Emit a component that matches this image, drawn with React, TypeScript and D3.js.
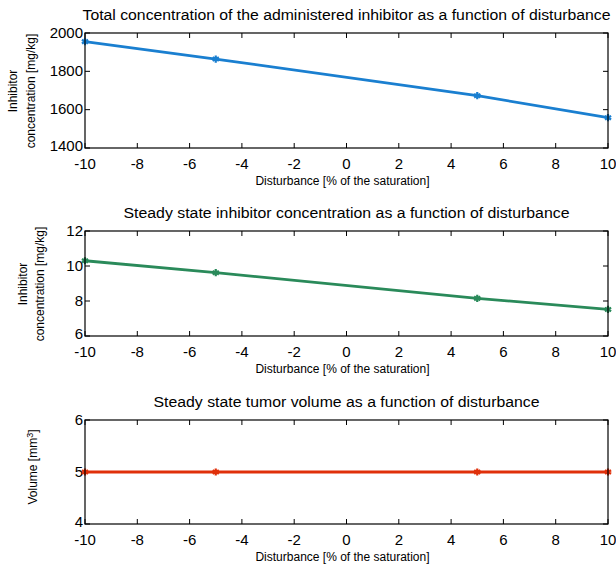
import React from "react";
import * as d3 from "d3";

// Disturbance levels [% of the saturation]
const disturbance = [-10, -5, 5, 10];
// Total administered inhibitor concentration [mg/kg]
const totalInhibitor = [1955, 1864, 1673, 1558];
// Steady state inhibitor concentration [mg/kg]
const steadyInhibitor = [10.3, 9.62, 8.15, 7.52];
// Steady state tumor volume [mm^3]
const tumorVolume = [5, 5, 5, 5];

const xTicks = [-10, -8, -6, -4, -2, 0, 2, 4, 6, 8, 10];
const yTicksTotal = [1400, 1600, 1800, 2000];
const yTicksSteady = [6, 8, 10, 12];
const yTicksVolume = [4, 5, 6];

const W = 616;
const H = 565;
const LEFT = 85;
const RIGHT = 608;
const FONT = "'Liberation Sans', Arial, sans-serif";

type PanelProps = {
  top: number;
  bottom: number;
  title: string;
  titleWidth: number;
  values: number[];
  yDomain: [number, number];
  yTicks: number[];
  color: string;
  yLabel: React.ReactNode;
};

function Panel({ top, bottom, title, titleWidth, values, yDomain, yTicks, color, yLabel }: PanelProps) {
  const x = d3.scaleLinear().domain([-10, 10]).range([LEFT, RIGHT]);
  const y = d3.scaleLinear().domain(yDomain).range([bottom, top]);
  const line = d3
    .line<number>()
    .x((_, i) => x(disturbance[i]))
    .y((d) => y(d));
  const marker = d3.symbol().type(d3.symbolAsterisk).size(36)();
  const tl = 5;
  const cx = (LEFT + RIGHT) / 2;
  return (
    <g>
      <text
        x={cx}
        y={top - 13}
        textAnchor="middle"
        fontSize={14}
        textLength={titleWidth}
        lengthAdjust="spacingAndGlyphs"
        fill="#000"
      >
        {title}
      </text>
      <rect x={LEFT} y={top} width={RIGHT - LEFT} height={bottom - top} fill="#fff" />
      {xTicks.map((t) => (
        <g key={"x" + t}>
          <line x1={x(t)} x2={x(t)} y1={bottom} y2={bottom - tl} stroke="#000" />
          <line x1={x(t)} x2={x(t)} y1={top} y2={top + tl} stroke="#000" />
          <text x={x(t)} y={bottom + 20.5} textAnchor="middle" fontSize={15} fill="#000">
            {t}
          </text>
        </g>
      ))}
      {yTicks.map((t) => (
        <g key={"y" + t}>
          <line x1={LEFT} x2={LEFT + tl} y1={y(t)} y2={y(t)} stroke="#000" />
          <line x1={RIGHT} x2={RIGHT - tl} y1={y(t)} y2={y(t)} stroke="#000" />
          <text
            x={LEFT - 2}
            y={y(t) + (t === yDomain[0] ? 3.3 : 4.5)}
            textAnchor="end"
            fontSize={15}
            fill="#000"
          >
            {t}
          </text>
        </g>
      ))}
      <path d={line(values) ?? ""} fill="none" stroke={color} strokeWidth={2.8} />
      {values.map((v, i) => (
        <path
          key={"m" + i}
          d={marker}
          transform={`translate(${x(disturbance[i])},${y(v)})`}
          fill="none"
          stroke={color}
          strokeWidth={2.2}
        />
      ))}
      <rect
        x={LEFT}
        y={top}
        width={RIGHT - LEFT}
        height={bottom - top}
        fill="none"
        stroke="#000"
        strokeWidth={1.2}
      />
      <text x={cx - 4} y={bottom + 37} textAnchor="middle" fontSize={12} fill="#000">
        Disturbance [% of the saturation]
      </text>
      {yLabel}
    </g>
  );
}

export default function App() {
  return (
    <svg
      width={W}
      height={H}
      viewBox={`0 0 ${W} ${H}`}
      style={{ position: "absolute", left: 0, top: 0, background: "#fff" }}
      fontFamily={FONT}
    >
      <rect width={W} height={H} fill="#fff" />
      <Panel
        top={33}
        bottom={148}
        title="Total concentration of the administered inhibitor as a function of disturbance"
        titleWidth={528}
        values={totalInhibitor}
        yDomain={[1400, 2000]}
        yTicks={yTicksTotal}
        color="#1a7fd0"
        yLabel={
          <text transform="translate(0,91) rotate(-90)" textAnchor="middle" fontSize={12} fill="#000">
            <tspan x={0} y={17}>Inhibitor</tspan>
            <tspan x={0} y={35}>concentration [mg/kg]</tspan>
          </text>
        }
      />
      <Panel
        top={231}
        bottom={336}
        title="Steady state inhibitor concentration as a function of disturbance"
        titleWidth={446}
        values={steadyInhibitor}
        yDomain={[6, 12]}
        yTicks={yTicksSteady}
        color="#2a8a5a"
        yLabel={
          <text transform="translate(0,284) rotate(-90)" textAnchor="middle" fontSize={12} fill="#000">
            <tspan x={0} y={27}>Inhibitor</tspan>
            <tspan x={0} y={44}>concentration [mg/kg]</tspan>
          </text>
        }
      />
      <Panel
        top={420}
        bottom={524}
        title="Steady state tumor volume as a function of disturbance"
        titleWidth={386}
        values={tumorVolume}
        yDomain={[4, 6]}
        yTicks={yTicksVolume}
        color="#e0300a"
        yLabel={
          <text transform="translate(0,467) rotate(-90)" textAnchor="middle" fontSize={12} fill="#000">
            <tspan x={0} y={37}>
              Volume [mm<tspan dy={-4} fontSize={9}>3</tspan>
              <tspan dy={4}>]</tspan>
            </tspan>
          </text>
        }
      />
    </svg>
  );
}
